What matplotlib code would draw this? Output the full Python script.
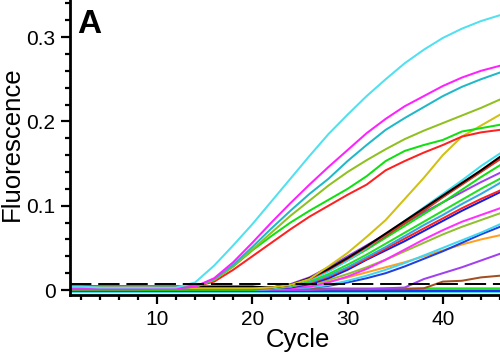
import matplotlib
matplotlib.use("Agg")
import matplotlib.pyplot as plt
from matplotlib.ticker import MultipleLocator, FixedLocator, FuncFormatter

plt.rcParams['font.family'] = ['Liberation Sans', 'DejaVu Sans']

cycles = [1, 2, 4, 6, 8, 10, 12, 14, 16, 18, 20, 22, 24, 26, 28, 30, 32, 34, 36, 38, 40, 42, 44, 46]

# early-rising samples
cyan_a = [0.004, 0.004, 0.003, 0.003, 0.003, 0.003, 0.003, 0.009, 0.029, 0.053, 0.078, 0.105, 0.132, 0.159, 0.185, 0.208, 0.230, 0.250, 0.269, 0.285, 0.299, 0.310, 0.319, 0.326]
magenta_a = [0.001, 0.001, 0.001, 0.001, 0.001, 0.002, 0.002, 0.004, 0.014, 0.033, 0.056, 0.080, 0.103, 0.125, 0.146, 0.166, 0.186, 0.203, 0.218, 0.230, 0.242, 0.252, 0.260, 0.266]
teal_a = [0.002, 0.002, 0.002, 0.002, 0.002, 0.002, 0.002, 0.004, 0.013, 0.030, 0.051, 0.073, 0.094, 0.114, 0.132, 0.153, 0.172, 0.190, 0.204, 0.217, 0.230, 0.241, 0.250, 0.258]
olive_a = [0.003, 0.003, 0.003, 0.003, 0.003, 0.003, 0.003, 0.004, 0.012, 0.028, 0.048, 0.068, 0.088, 0.106, 0.124, 0.140, 0.154, 0.167, 0.179, 0.189, 0.198, 0.207, 0.216, 0.226]
green_a = [0.003, 0.003, 0.003, 0.002, 0.002, 0.002, 0.002, 0.004, 0.012, 0.028, 0.047, 0.064, 0.080, 0.094, 0.107, 0.120, 0.135, 0.153, 0.165, 0.172, 0.178, 0.188, 0.192, 0.196]
red_a = [0.005, 0.005, 0.004, 0.004, 0.004, 0.003, 0.003, 0.004, 0.010, 0.024, 0.040, 0.056, 0.072, 0.087, 0.100, 0.113, 0.125, 0.142, 0.153, 0.163, 0.172, 0.182, 0.187, 0.190]
yellow_a = [0.002, 0.002, 0.002, 0.002, 0.002, 0.002, 0.002, 0.002, 0.002, 0.002, 0.002, 0.003, 0.006, 0.013, 0.028, 0.044, 0.063, 0.083, 0.108, 0.133, 0.160, 0.182, 0.195, 0.208]

# later-rising samples
cyan_b = [0.002, 0.002, 0.002, 0.002, 0.002, 0.002, 0.002, 0.002, 0.002, 0.002, 0.002, 0.002, 0.005, 0.012, 0.022, 0.035, 0.050, 0.066, 0.082, 0.098, 0.114, 0.130, 0.147, 0.162]
black_b = [0.004, 0.004, 0.004, 0.004, 0.004, 0.004, 0.004, 0.004, 0.004, 0.004, 0.004, 0.003, 0.006, 0.014, 0.025, 0.038, 0.052, 0.067, 0.082, 0.097, 0.112, 0.127, 0.142, 0.158]
red_b = [0.001, 0.001, 0.001, 0.001, 0.001, 0.001, 0.001, 0.001, 0.001, 0.001, 0.001, 0.003, 0.006, 0.013, 0.024, 0.037, 0.051, 0.066, 0.081, 0.096, 0.111, 0.126, 0.141, 0.156]
brown_b = [0.002, 0.002, 0.002, 0.002, 0.002, 0.002, 0.002, 0.002, 0.002, 0.002, 0.002, 0.002, 0.005, 0.012, 0.023, 0.036, 0.050, 0.064, 0.079, 0.094, 0.110, 0.125, 0.140, 0.155]
green_b = [0.000, 0.000, 0.000, 0.000, 0.000, 0.000, 0.000, 0.000, 0.000, 0.000, 0.000, 0.003, 0.006, 0.013, 0.023, 0.035, 0.048, 0.062, 0.076, 0.090, 0.104, 0.119, 0.134, 0.148]
purple_b = [0.001, 0.001, 0.001, 0.001, 0.001, 0.001, 0.001, 0.001, 0.001, 0.001, 0.001, 0.003, 0.007, 0.015, 0.027, 0.040, 0.053, 0.066, 0.079, 0.092, 0.104, 0.116, 0.128, 0.139]
green_c = [0.001, 0.001, 0.001, 0.001, 0.001, 0.001, 0.001, 0.001, 0.001, 0.001, 0.001, 0.002, 0.004, 0.010, 0.019, 0.030, 0.042, 0.055, 0.068, 0.081, 0.094, 0.107, 0.120, 0.132]
sky_b = [0.000, 0.000, 0.000, 0.000, 0.000, 0.000, 0.000, 0.000, 0.000, 0.000, 0.000, 0.002, 0.004, 0.009, 0.017, 0.027, 0.039, 0.051, 0.064, 0.077, 0.089, 0.102, 0.114, 0.127]
red_c = [0.003, 0.003, 0.003, 0.003, 0.003, 0.003, 0.003, 0.003, 0.003, 0.003, 0.003, 0.002, 0.004, 0.008, 0.016, 0.026, 0.037, 0.049, 0.061, 0.073, 0.085, 0.097, 0.108, 0.118]
blue_b = [0.004, 0.004, 0.004, 0.004, 0.004, 0.004, 0.004, 0.004, 0.004, 0.004, 0.004, 0.002, 0.003, 0.007, 0.014, 0.024, 0.036, 0.047, 0.058, 0.070, 0.082, 0.094, 0.105, 0.116]
magenta_b = [0.000, 0.000, 0.000, 0.000, 0.000, 0.000, 0.000, 0.000, 0.000, 0.000, 0.000, 0.002, 0.002, 0.004, 0.009, 0.016, 0.025, 0.036, 0.048, 0.060, 0.071, 0.081, 0.089, 0.097]
olive_b = [0.002, 0.002, 0.002, 0.002, 0.002, 0.002, 0.002, 0.002, 0.002, 0.002, 0.002, 0.002, 0.003, 0.006, 0.012, 0.019, 0.027, 0.036, 0.046, 0.056, 0.066, 0.075, 0.083, 0.091]
cyan_c = [0.000, 0.000, 0.000, 0.000, 0.000, 0.000, 0.000, 0.000, 0.000, 0.000, 0.000, 0.001, 0.002, 0.003, 0.006, 0.011, 0.017, 0.024, 0.032, 0.041, 0.050, 0.059, 0.068, 0.078]
blue_c = [0.001, 0.001, 0.001, 0.001, 0.001, 0.001, 0.001, 0.001, 0.001, 0.001, 0.001, 0.001, 0.002, 0.003, 0.005, 0.009, 0.014, 0.020, 0.028, 0.037, 0.046, 0.056, 0.066, 0.075]
orange_b = [0.001, 0.001, 0.001, 0.001, 0.001, 0.001, 0.001, 0.001, 0.001, 0.001, 0.001, 0.002, 0.003, 0.006, 0.010, 0.015, 0.021, 0.027, 0.033, 0.040, 0.047, 0.054, 0.060, 0.065]
purple_c = [0.000, 0.000, 0.000, 0.000, 0.000, 0.000, 0.000, 0.000, 0.000, 0.000, 0.000, 0.000, 0.000, 0.000, 0.001, 0.001, 0.001, 0.002, 0.003, 0.013, 0.020, 0.027, 0.035, 0.043]
brown_c = [0.001, 0.001, 0.001, 0.001, 0.001, 0.001, 0.001, 0.001, 0.001, 0.001, 0.001, 0.001, 0.001, 0.001, 0.001, 0.001, 0.001, 0.001, 0.001, 0.002, 0.010, 0.011, 0.015, 0.017]

# non-amplifying samples
cyan_d = [-0.002, -0.002, -0.002, -0.002, -0.002, -0.002, -0.002, -0.002, -0.002, -0.002, -0.002, -0.002, -0.002, -0.002, -0.002, -0.002, -0.002, -0.002, -0.002, -0.002, -0.002, -0.002, -0.002, -0.002]
yellow_d = [0.002, 0.002, 0.002, 0.002, 0.002, 0.002, 0.002, 0.002, 0.002, 0.002, 0.002, 0.002, 0.002, 0.002, 0.002, 0.002, 0.002, 0.002, 0.002, 0.002, 0.002, 0.002, 0.002, 0.002]
blue_d = [-0.001, -0.001, -0.001, -0.001, -0.001, -0.001, -0.001, -0.001, -0.001, -0.001, -0.001, -0.001, -0.001, -0.001, -0.001, -0.001, -0.001, -0.001, -0.001, -0.001, -0.001, -0.001, -0.001, -0.001]
green_d = [0.001, 0.001, 0.001, 0.001, 0.001, 0.001, 0.001, 0.001, 0.001, 0.001, 0.001, 0.001, 0.001, 0.001, 0.001, 0.001, 0.001, 0.001, 0.001, 0.001, 0.001, 0.001, 0.001, 0.001]

threshold = 0.007

series = [
    (cyan_d, '#40e0f0'), (yellow_d, '#d8c820'), (blue_d, '#2030f0'), (green_d, '#20e020'),
    (brown_c, '#a05020'), (purple_c, '#a040f0'), (orange_b, '#ffa020'), (blue_c, '#2040e0'),
    (cyan_c, '#40d8f0'), (olive_b, '#90c030'), (magenta_b, '#ff30ff'), (blue_b, '#1020e0'),
    (red_c, '#ff2020'), (sky_b, '#30a8e8'), (green_c, '#20e020'), (purple_b, '#a040f0'),
    (green_b, '#10e010'), (brown_b, '#a05020'), (cyan_b, '#40e0f0'), (red_b, '#ff2020'),
    (black_b, '#000000'),
    (yellow_a, '#d0c010'), (red_a, '#ff2020'), (green_a, '#10e010'), (olive_a, '#90c020'),
    (teal_a, '#20b8c8'), (magenta_a, '#ff20ff'), (cyan_a, '#50e0f0'),
]

fig = plt.figure(figsize=(5.0, 3.59), dpi=100)
ax = fig.add_axes([0.14, 0.178, 0.86, 0.822])

for vals, col in series:
    ax.plot(cycles, vals, color=col, lw=1.45, solid_joinstyle='round')

ax.axhline(threshold, color='black', lw=1.4, ls=(0, (11, 3.5)), zorder=5)

ax.set_xlim(0.87, 46.0)
ax.set_ylim(-0.006, 0.344)

for s in ['top', 'right']:
    ax.spines[s].set_visible(False)
for s in ['left', 'bottom']:
    ax.spines[s].set_linewidth(2.0)

ax.xaxis.set_major_locator(FixedLocator([10, 20, 30, 40]))
ax.xaxis.set_minor_locator(MultipleLocator(2))
ax.yaxis.set_major_locator(FixedLocator([0, 0.1, 0.2, 0.3]))
ax.yaxis.set_minor_locator(MultipleLocator(0.02))
ax.yaxis.set_major_formatter(FuncFormatter(lambda v, p: '0' if abs(v) < 1e-9 else f'{v:.1f}'))

ax.tick_params(which='major', direction='out', length=6.5, width=1.6, labelsize=15)
ax.tick_params(axis='x', which='major', pad=4.5)
ax.tick_params(axis='y', which='major', pad=4)
ax.tick_params(which='minor', direction='out', length=3.5, width=1.6)

ax.set_xlabel('Cycle', fontsize=18.5)
ax.set_ylabel('Fluorescence', fontsize=18.5)
ax.xaxis.set_label_coords(0.531, -0.112)
ax.yaxis.set_label_coords(-0.108, 0.512)

ax.text(0.016, 0.97, 'A', transform=ax.transAxes, fontsize=24, fontweight='bold',
        va='top', ha='left')

fig.savefig('out.png', dpi=100)
